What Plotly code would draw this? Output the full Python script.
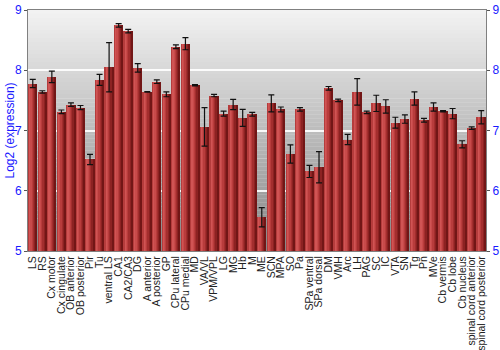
import plotly.graph_objects as go

regions = ["LS", "RS", "Cx motor", "Cx cingulate", "OB anterior", "OB posterior", "Pir", "Tu",
           "ventral LS", "CA1", "CA2/CA3", "DG", "A anterior", "A posterior", "GP", "CPu lateral",
           "CPu medial", "MD", "VA/VL", "VPM/VPL", "LG", "MG", "Hb", "M", "ME", "SCN", "MPA", "SO",
           "Pa", "SPa ventral", "SPa dorsal", "DM", "VMH", "Arc", "LH", "PAG", "SC", "IC", "VTA",
           "SN", "Tg", "Pn", "MVe", "Cb vermis", "Cb lobe", "Cb nucleus", "spinal cord anterior",
           "spinal cord posterior"]

expression = [7.78, 7.64, 7.89, 7.31, 7.43, 7.38, 6.52, 7.84,
              8.05, 8.745, 8.65, 8.04, 7.64, 7.81, 7.60, 8.39,
              8.44, 7.75, 7.06, 7.58, 7.28, 7.43, 7.21, 7.27, 5.56, 7.45, 7.35, 6.61,
              7.35, 6.32, 6.39, 7.70, 7.50, 6.85, 7.64, 7.30, 7.45, 7.40, 7.13,
              7.19, 7.53, 7.17, 7.39, 7.32, 7.28, 6.77, 7.04,
              7.22]

error = [0.07, 0.02, 0.095, 0.03, 0.03, 0.035, 0.085, 0.09,
         0.41, 0.03, 0.03, 0.07, 0.005, 0.03, 0.04, 0.03,
         0.10, 0.01, 0.32, 0.02, 0.04, 0.085, 0.14, 0.03, 0.16, 0.14, 0.04, 0.15,
         0.03, 0.10, 0.26, 0.03, 0.02, 0.085, 0.22, 0.02, 0.135, 0.11, 0.09,
         0.07, 0.11, 0.03, 0.07, 0.01, 0.085, 0.06, 0.02,
         0.11]

y_ticks = [5, 6, 7, 8, 9]

FONT = "Liberation Sans, Arial, sans-serif"
BLUE = "#1a1aff"

stripe_colors = ["#b53c3c", "#d05454", "#c84a4a", "#b83c3c", "#a32e2e", "#8c2222", "#721616"]
total_w = 0.9
n = len(stripe_colors)
sw = total_w / n

fig = go.Figure()
for i, c in enumerate(stripe_colors):
    fig.add_trace(go.Bar(
        x=regions, y=[v - 5 for v in expression], base=5,
        width=sw + 0.004, offset=-total_w / 2 + i * sw,
        marker=dict(color=c, line=dict(width=0)),
        hoverinfo="skip", showlegend=False,
    ))

fig.add_trace(go.Scatter(
    x=regions, y=expression, mode="markers",
    marker=dict(size=1, opacity=0),
    error_y=dict(type="data", array=error, visible=True, color="#111111", thickness=1.2, width=3),
    hoverinfo="skip", showlegend=False,
))

# gradient background (styling)
shapes = []
nb = 60
top = (242, 242, 242)
bot = (135, 135, 135)
for k in range(nb):
    t = k / (nb - 1)
    col = tuple(int(round(top[j] + (bot[j] - top[j]) * t)) for j in range(3))
    shapes.append(dict(type="rect", xref="paper", yref="paper",
                       x0=0, x1=1, y0=1 - (k + 1) / nb, y1=1 - k / nb + 0.001,
                       fillcolor="rgb(%d,%d,%d)" % col, line=dict(width=0), layer="below"))

fig.update_layout(
    width=500, height=350,
    margin=dict(l=28, r=14, t=10, b=99),
    paper_bgcolor="white", plot_bgcolor="rgba(0,0,0,0)",
    barmode="overlay", bargap=0,
    shapes=shapes,
    font=dict(family=FONT, size=11, color="#222222"),
    xaxis=dict(
        tickmode="array", tickvals=regions, ticktext=regions,
        tickangle=-90, tickfont=dict(size=10.5, color="#222222", family=FONT),
        showline=True, mirror=True, linecolor="#808080", linewidth=1,
        showgrid=False, ticks="", range=[-0.5, len(regions) - 0.5],
        automargin=False,
    ),
    yaxis=dict(
        range=[5, 9], tickvals=y_ticks, ticks="outside", ticklen=3, tickcolor="#555555",
        tickfont=dict(size=12, color=BLUE, family=FONT),
        showline=True, linecolor="#808080", linewidth=1,
        gridcolor="rgba(255,255,255,0.9)", gridwidth=2, zeroline=False,
        automargin=False,
    ),
    yaxis2=dict(
        range=[5, 9], tickvals=y_ticks, ticks="outside", ticklen=3, tickcolor="#555555",
        tickfont=dict(size=12, color=BLUE, family=FONT),
        overlaying="y", side="right", anchor="x",
        showline=True, linecolor="#808080", linewidth=1,
        showgrid=False, zeroline=False, automargin=False,
    ),
    annotations=[dict(
        text="Log2 (expression)", textangle=-90, xref="paper", yref="paper",
        x=0, xshift=-19, y=0.5, xanchor="center", yanchor="middle", showarrow=False,
        font=dict(size=12, color=BLUE, family=FONT),
    )],
)

fig.add_trace(go.Scatter(x=[regions[0]], y=[5], yaxis="y2", mode="markers",
                         marker=dict(opacity=0, size=1), hoverinfo="skip", showlegend=False))

fig.write_html("out.html")
